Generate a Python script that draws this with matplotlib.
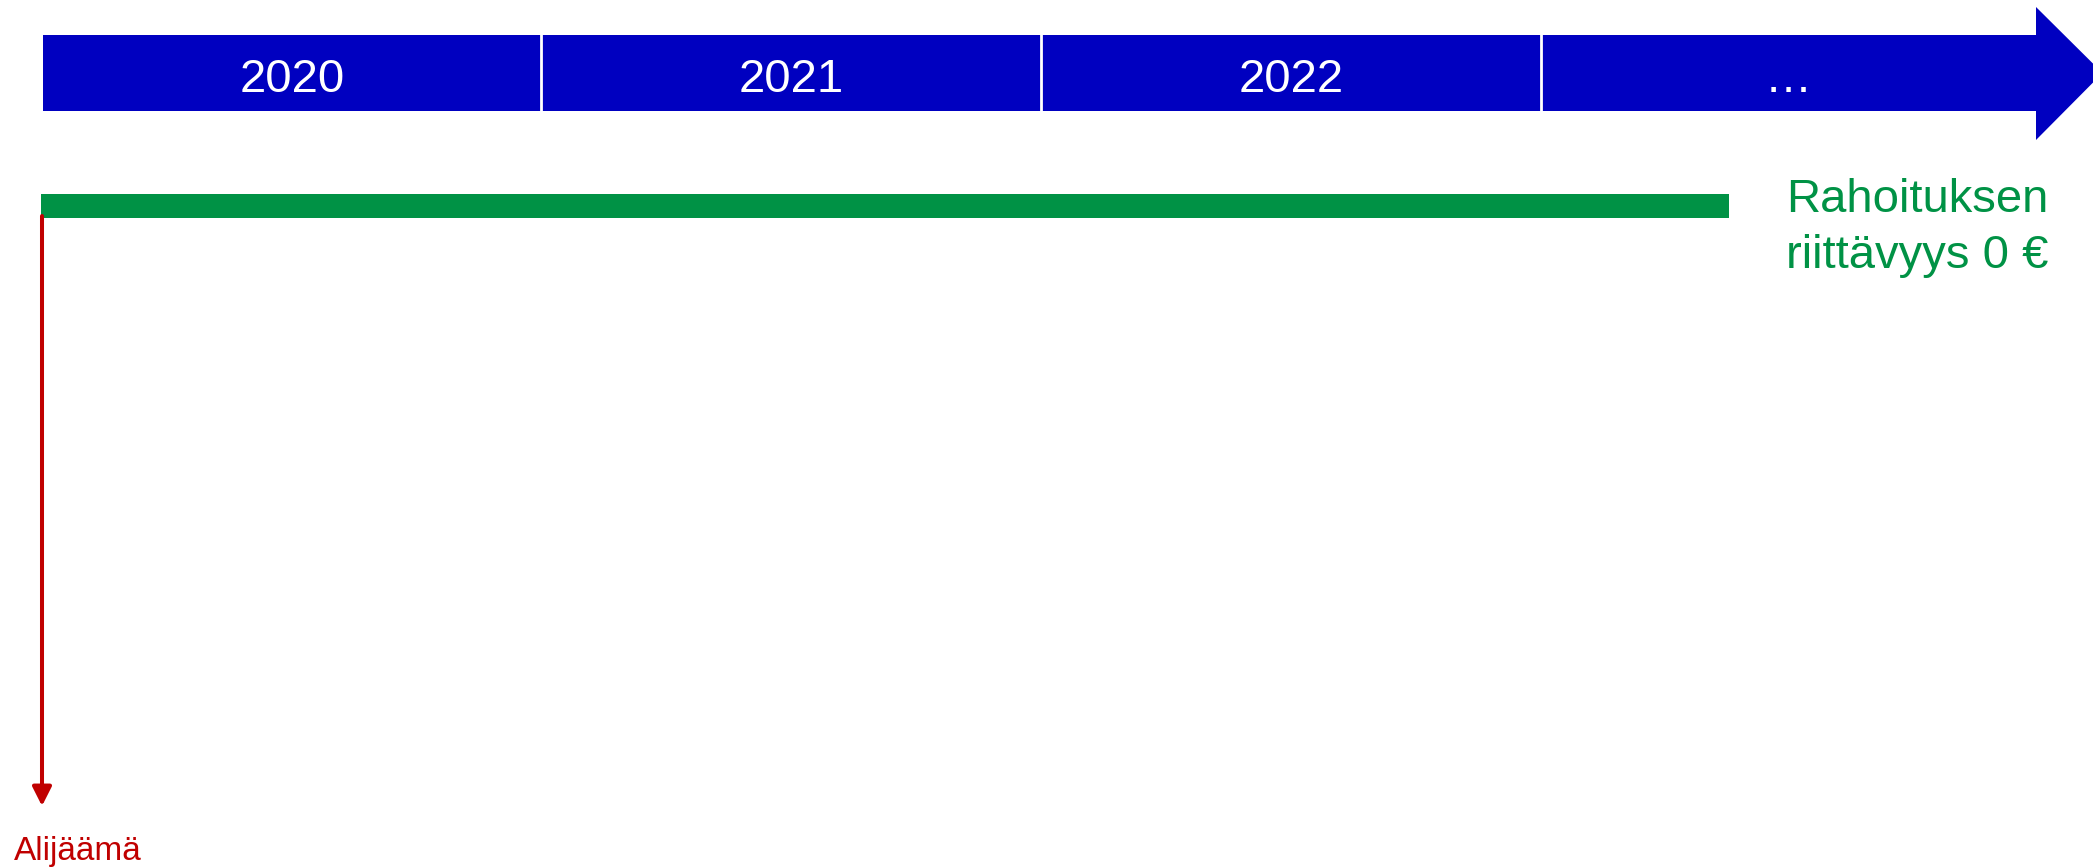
import matplotlib.pyplot as plt
from matplotlib.patches import Polygon, Rectangle

plt.rcParams['font.family'] = ['Liberation Sans', 'DejaVu Sans']

# Timeline content
years = ['2020', '2021', '2022', '…']
green_label = ['Rahoituksen', 'riittävyys 0 €']
red_label = 'Alijäämä'

BLUE = '#0000C0'
GREEN = '#009245'
RED = '#C00000'

W, H = 2093, 867
fig = plt.figure(figsize=(W / 100, H / 100), dpi=100)
ax = fig.add_axes([0, 0, 1, 1])
ax.set_xlim(0, W)
ax.set_ylim(H, 0)
ax.axis('off')

# Layout (pixel units)
bar_left, bar_top, bar_bot = 43, 35, 111
seg_w = 500
body_end = 2036
head_top, head_bot = 7, 140
mid = (bar_top + bar_bot) / 2
tip = body_end + (head_bot - head_top) / 2

edges = [bar_left] + [bar_left + 498 + seg_w * i for i in range(len(years) - 1)] + [body_end]

# blue arrow shape
arrow = Polygon([(bar_left, bar_top), (body_end, bar_top), (body_end, head_top),
                 (tip, mid), (body_end, head_bot), (body_end, bar_bot),
                 (bar_left, bar_bot)], closed=True, facecolor=BLUE, edgecolor='none')
ax.add_patch(arrow)

for x in edges[1:-1]:
    ax.plot([x, x], [bar_top - 1, bar_bot + 1], color='white', lw=2.0, solid_capstyle='butt')

for i, y in enumerate(years):
    cx = (edges[i] + edges[i + 1]) / 2
    ax.text(cx, 92, y, color='white', fontsize=34, ha='center', va='baseline')

# green line
ax.add_patch(Rectangle((41, 194), 1729 - 41, 24, facecolor=GREEN, edgecolor='none'))
for j, line in enumerate(green_label):
    ax.text(1917, 212 + 56 * j, line, color=GREEN, fontsize=34, ha='center', va='baseline')

# red deficit arrow
ax.annotate('', xy=(42, 806), xytext=(42, 216),
            arrowprops=dict(arrowstyle='-|>,head_length=1.15,head_width=0.58',
                            color=RED, lw=2.9, shrinkA=0, shrinkB=0))
ax.text(78, 860, red_label, color=RED, fontsize=24, ha='center', va='baseline')

fig.savefig('out.png', dpi=100, facecolor='white')
